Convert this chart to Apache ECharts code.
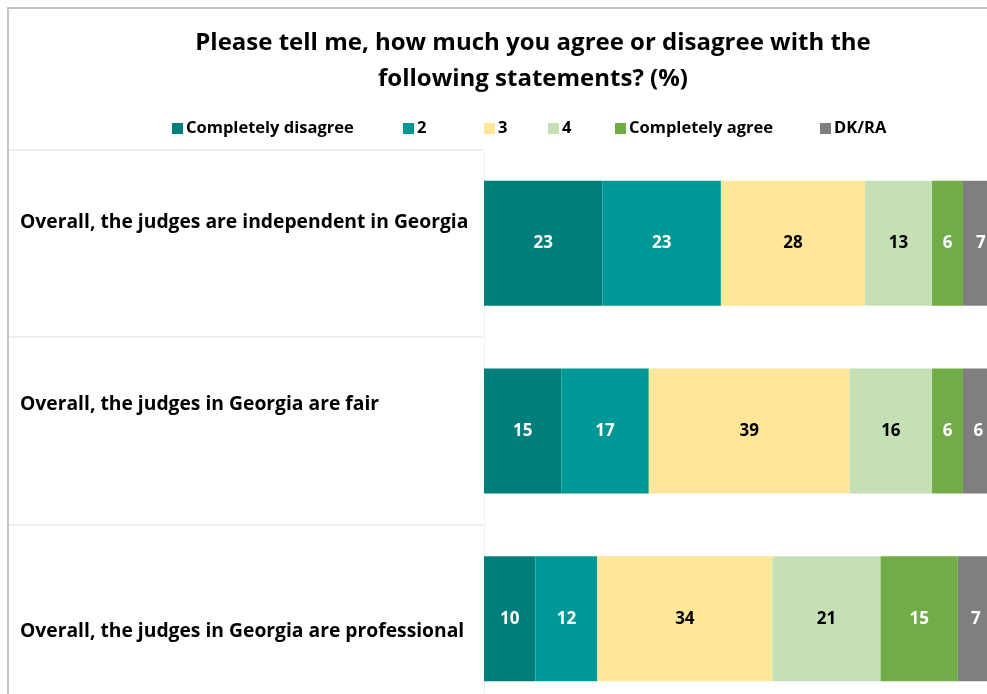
<!DOCTYPE html>
<html lang="en">
<head>
	<meta charset="utf-8">
	<title>Judges in Georgia</title>
	<script src="https://cdn.jsdelivr.net/npm/echarts@6/dist/echarts.min.js"></script>
	<style>
		html, body { margin: 0; padding: 0; background: #fff; }
		#panel { width: 987px; height: 694px; }
	</style>
</head>
<body>
	<div id="panel"></div>
	<script type="text/javascript">
		// 数据
		const categories = [
			'Overall, the judges are independent in Georgia',
			'Overall, the judges in Georgia are fair',
			'Overall, the judges in Georgia are professional'
		];
		const seriesNames = ['Completely disagree', '2', '3', '4', 'Completely agree', 'DK/RA'];
		const completelyDisagree = [23, 15, 10];
		const answer2 = [23, 17, 12];
		const answer3 = [28, 39, 34];
		const answer4 = [13, 16, 21];
		const completelyAgree = [6, 6, 15];
		const dkRa = [7, 6, 7];

		const values = [completelyDisagree, answer2, answer3, answer4, completelyAgree, dkRa];
		const colors = ['#007e7b', '#009896', '#ffe699', '#c5e0b4', '#70ad47', '#7f7f7f'];
		const labelColors = ['#fff', '#fff', '#000', '#000', '#fff', '#fff'];
		// 图例位置（像 Excel 一样每项单独放）
		const legendLeft = [172, 403, 484, 548, 615, 820];
		const font = '"Open Sans", "Noto Sans", sans-serif';
		const catFont = { fontFamily: font, fontSize: 19.3, fontWeight: 'bold', color: '#000' };

		const panel = echarts.init(document.getElementById('panel'));
		let option = {
			animation: false,
			backgroundColor: '#fff',
			textStyle: { fontFamily: font },
			title: {
				text: 'Please tell me, how much you agree or disagree with the\nfollowing statements? (%)',
				left: 533,
				top: 25,
				padding: 0,
				textAlign: 'center',
				textStyle: { fontFamily: font, fontSize: 24, fontWeight: 'bold', color: '#000', lineHeight: 36 }
			},
			legend: seriesNames.map((name, k) => ({
				data: [name],
				left: legendLeft[k],
				top: 120,
				padding: 0,
				itemWidth: 11,
				itemHeight: 11,
				icon: 'rect',
				selectedMode: false,
				textStyle: { fontFamily: font, fontSize: 16.5, fontWeight: 'bold', color: '#000', padding: [0, 0, 0, -2] }
			})),
			graphic: [{
				type: 'rect',
				shape: { x: 8, y: 8, width: 1000, height: 700 },
				style: { fill: 'none', stroke: '#c4c4c4', lineWidth: 2 },
				silent: true
			}],
			grid: [
				{ left: 484, top: 149.5, width: 515, height: 563, outerBoundsMode: 'none' },
				{ left: 9, top: 149.5, width: 474, height: 563, outerBoundsMode: 'none' }
			],
			xAxis: [
				{ type: 'value', min: 0, max: 100, show: false, gridIndex: 0 },
				{ type: 'value', min: 0, max: 100, show: false, gridIndex: 1 }
			],
			yAxis: [
				{
					type: 'category',
					data: categories,
					inverse: true,
					gridIndex: 0,
					axisLine: { show: true, lineStyle: { color: '#f0f0f0', width: 1 } },
					axisTick: { show: false },
					axisLabel: {
						align: 'left',
						margin: 464,
						...catFont,
						formatter: (v, i) => '{r' + i + '|' + v + '}',
						rich: {
							r0: { ...catFont, padding: [0, 0, 42, 0] },
							r1: { ...catFont, padding: [0, 0, 52, 0] },
							r2: { ...catFont, padding: [26, 0, 0, 0] }
						}
					}
				},
				{
					type: 'category',
					data: categories,
					inverse: true,
					gridIndex: 1,
					axisLine: { show: false },
					axisTick: { show: false },
					axisLabel: { show: false },
					splitLine: { show: true, lineStyle: { color: '#eeeeee', width: 2 } }
				}
			],
			series: seriesNames.map((name, k) => ({
				name: name,
				type: 'bar',
				stack: 'total',
				xAxisIndex: 0,
				yAxisIndex: 0,
				barWidth: 125,
				data: values[k],
				itemStyle: { color: colors[k] },
				label: {
					show: true,
					position: 'inside',
					fontFamily: font,
					fontSize: 17,
					fontWeight: 'bold',
					color: labelColors[k]
				}
			}))
		};
		panel.setOption(option);
	</script>
</body>
</html>
